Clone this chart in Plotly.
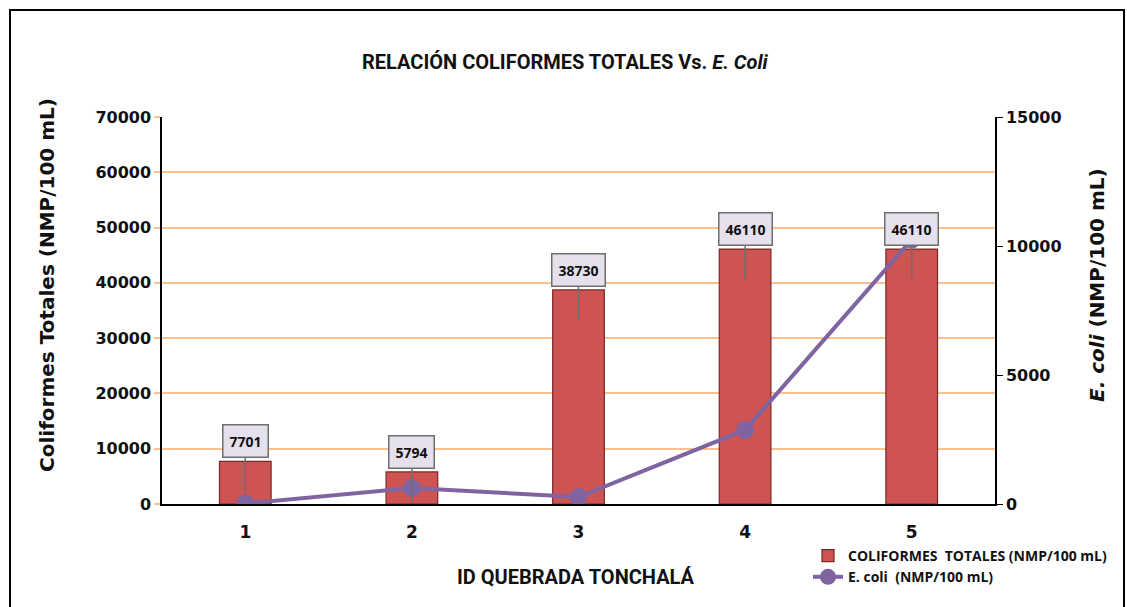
import plotly.graph_objects as go

categories = [1, 2, 3, 4, 5]
coliformes = [7701, 5794, 38730, 46110, 46110]
ecoli = [20, 620, 270, 2870, 10250]
left_ticks = [0, 10000, 20000, 30000, 40000, 50000, 60000, 70000]
right_ticks = [0, 5000, 10000, 15000]

W, H = 1127, 607
L, R, T, B = 162, 995, 117, 504
pw, ph = R - L, B - T

def xp(px):
    return (px - L) / pw

def yp(py):
    return (B - py) / ph

FONT = "Open Sans"
TICKFONT = "DejaVu Sans"
fig = go.Figure()

fig.add_trace(go.Bar(
    x=categories, y=coliformes, name="COLIFORMES  TOTALES (NMP/100 mL)",
    width=0.31,
    marker=dict(color="#CD5452", line=dict(color="#7A2826", width=1.2)),
    yaxis="y",
))
fig.add_trace(go.Scatter(
    x=categories, y=ecoli, name="E. coli  (NMP/100 mL)",
    mode="lines+markers",
    line=dict(color="#8064A2", width=4),
    marker=dict(color="#8064A2", size=18),
    yaxis="y2",
))

for c, v in zip(categories, coliformes):
    fig.add_annotation(
        x=c, y=v, xref="x", yref="y", yshift=-30,
        text="<b>%d</b>" % v, showarrow=True, arrowhead=0, arrowwidth=1.5,
        arrowcolor="#6E6E6E", ax=0, ay=-50,
        bgcolor="#E6E0EC", bordercolor="#6E6E6E", borderwidth=1.5, borderpad=6,
        font=dict(family=FONT, size=14, color="#111111"),
    )

fig.add_shape(type="rect", xref="paper", yref="paper",
              x0=xp(10), x1=xp(1124), y0=yp(615), y1=yp(10),
              line=dict(color="black", width=2), fillcolor="rgba(0,0,0,0)", layer="below")

def label(x, y, text, size, family, angle=0):
    fig.add_annotation(
        xref="paper", yref="paper", x=xp(x), y=yp(y), xanchor="center", yanchor="middle",
        textangle=angle, text=text, showarrow=False,
        font=dict(family=family, size=size, color="#111111", weight="bold"),
    )

label(565, 62, "RELACIÓN COLIFORMES TOTALES Vs. <i>E. Coli</i>", 20, "Roboto")
label(47, 285, "Coliformes Totales (NMP/100 mL)", 20, TICKFONT, -90)
label(1097, 285, "<i>E. coli</i> (NMP/100 mL)", 20, TICKFONT, -90)
label(576, 577, "ID QUEBRADA TONCHALÁ", 20, "Roboto")

fig.update_layout(
    width=W, height=H,
    margin=dict(l=L, r=W - R, t=T, b=H - B),
    paper_bgcolor="white", plot_bgcolor="white",
    showlegend=True,
    legend=dict(x=xp(808), y=yp(540), xanchor="left", yanchor="top",
                font=dict(family=FONT, size=14, color="#111111", weight="bold"),
                bgcolor="rgba(0,0,0,0)", tracegroupgap=0, itemwidth=30),
    xaxis=dict(
        range=[0.5, 5.5], tickmode="array", tickvals=categories,
        ticktext=[str(c) for c in categories],
        showline=True, linecolor="black", linewidth=1.5,
        ticks="", showgrid=False, zeroline=False, ticklabelstandoff=12,
        tickfont=dict(family=TICKFONT, size=17, color="#111111", weight="bold"),
    ),
    yaxis=dict(
        range=[0, 70000], tickmode="array", tickvals=left_ticks,
        ticktext=[str(t) for t in left_ticks],
        showline=True, linecolor="black", linewidth=1.5,
        showgrid=True, gridcolor="#FAC090", gridwidth=2,
        ticks="outside", ticklen=6, tickcolor="#FAC090", tickwidth=2,
        zeroline=False,
        tickfont=dict(family=TICKFONT, size=16, color="#111111", weight="bold"),
    ),
    yaxis2=dict(
        range=[0, 15000], tickmode="array", tickvals=right_ticks,
        ticktext=[str(t) for t in right_ticks],
        overlaying="y", side="right",
        showline=True, linecolor="black", linewidth=1.5,
        showgrid=False, zeroline=False,
        ticks="outside", ticklen=6, tickcolor="black",
        tickfont=dict(family=TICKFONT, size=16, color="#111111", weight="bold"),
    ),
)

fig.write_html("out.html", post_script="document.body.style.margin='0';",
               config={"displayModeBar": False})
